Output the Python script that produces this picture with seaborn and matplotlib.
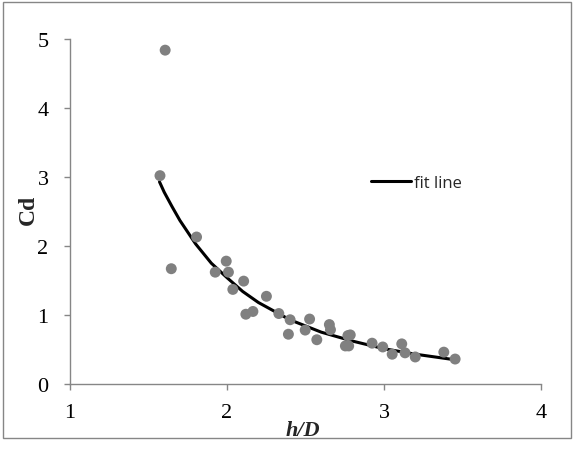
import numpy as np
import pandas as pd
import matplotlib
matplotlib.use("Agg")
import matplotlib.pyplot as plt
from matplotlib.patches import Rectangle
import seaborn as sns

# measured points
h_over_d = [1.606, 1.573, 1.645, 1.806, 1.925, 1.995, 2.009, 2.037, 2.106, 2.120,
            2.165, 2.251, 2.330, 2.402, 2.391, 2.498, 2.526, 2.572, 2.652, 2.659,
            2.754, 2.775, 2.770, 2.785, 2.924, 2.992, 3.052, 3.113, 3.134, 3.199,
            3.381, 3.453]
cd = [4.84, 3.02, 1.67, 2.13, 1.62, 1.78, 1.62, 1.37, 1.49, 1.01,
      1.05, 1.27, 1.02, 0.93, 0.72, 0.78, 0.94, 0.64, 0.86, 0.785,
      0.55, 0.55, 0.70, 0.71, 0.59, 0.535, 0.43, 0.58, 0.45, 0.39,
      0.46, 0.36]

# fit line
fit_x = [1.57, 1.60, 1.65, 1.70, 1.80, 1.90, 2.00, 2.10, 2.20, 2.40, 2.60,
         2.80, 3.00, 3.20, 3.45]
fit_y = [2.93, 2.78, 2.57, 2.37, 2.03, 1.75, 1.54, 1.34, 1.18, 0.93, 0.75,
         0.62, 0.51, 0.43, 0.35]

points = pd.DataFrame({"h/D": h_over_d, "Cd": cd})
fit = pd.DataFrame({"h/D": fit_x, "Cd": fit_y})

sns.set_style("ticks")
serif = ["Liberation Serif", "DejaVu Serif"]
plt.rcParams["font.family"] = serif

fig = plt.figure(figsize=(5.74, 4.56), dpi=100)
ax = fig.add_axes([0.122, 0.156, 0.8205, 0.756])

sns.scatterplot(data=points, x="h/D", y="Cd", ax=ax, color="#808080",
                s=62, edgecolor="none", zorder=3)
sns.lineplot(data=fit, x="h/D", y="Cd", ax=ax, color="black", linewidth=2.2,
             label="fit line", zorder=2)

ax.set_xlim(1, 4)
ax.set_ylim(0, 5)
ax.set_xticks([1, 2, 3, 4])
ax.set_yticks([0, 1, 2, 3, 4, 5])
ax.tick_params(axis="both", labelsize=16, color="#868686", length=4.5,
               width=1, labelcolor="black")
ax.tick_params(axis="y", pad=11)
ax.tick_params(axis="x", pad=9)
for lbl in ax.get_xticklabels() + ax.get_yticklabels():
    lbl.set_fontfamily(serif)
for side in ["left", "bottom"]:
    ax.spines[side].set_color("#868686")
    ax.spines[side].set_linewidth(1)
sns.despine(ax=ax)

ax.set_xlabel("h/D", fontsize=16, fontweight="bold", style="italic",
              family=serif, va="center")
ax.xaxis.set_label_coords(0.495, -0.135)
ax.set_ylabel("Cd", fontsize=17, fontweight="bold", family=serif, va="center")
ax.yaxis.set_label_coords(-0.089, 0.507)

leg = ax.legend(loc="center left", bbox_to_anchor=(0.639, 0.583), frameon=False,
                prop={"family": "Open Sans", "size": 12}, handlelength=2.4,
                handletextpad=0.2, borderpad=0, borderaxespad=0)

fig.patches.append(Rectangle((0.005, 0.037), 0.99, 0.956, transform=fig.transFigure,
                             fill=False, edgecolor="#868686", linewidth=1))

fig.savefig("out.png", dpi=100)
